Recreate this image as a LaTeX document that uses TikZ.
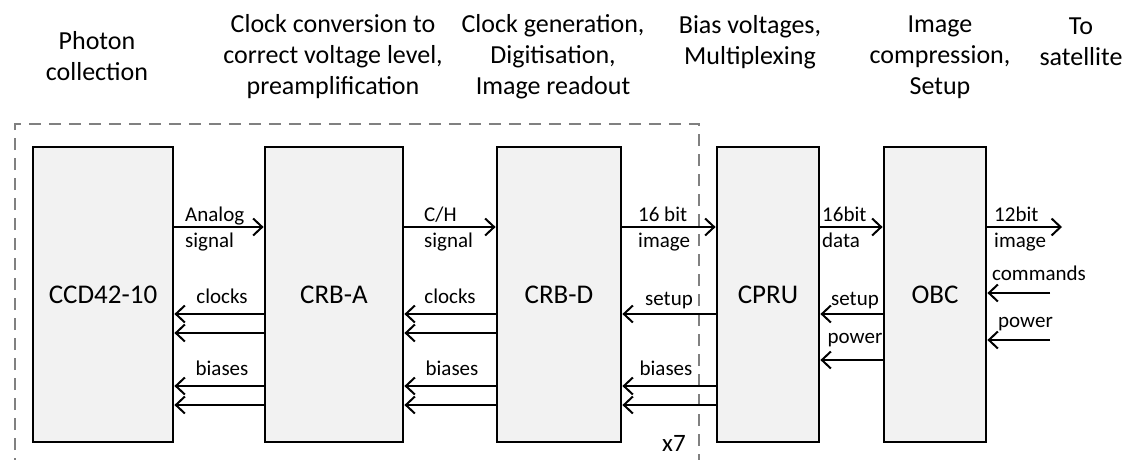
\documentclass[tikz,border=0pt]{standalone}
\usepackage{fontspec}
\setmainfont{Carlito}
\usetikzlibrary{arrows.meta, positioning}

\begin{document}
\begin{tikzpicture}[
    x=1pt, y=-1pt,
    box/.style={rectangle, minimum height=295pt, inner sep=0pt, text centered,
                draw=black, line width=2.8pt, fill=black!5, font=\fontsize{27}{30}\selectfont},
    arrow/.style={-{Straight Barb[length=9pt, width=17pt, line width=2pt]}, line width=2pt},
    labelstyle/.style={align=center, font=\fontsize{26}{31}\selectfont},
    sig/.style={inner sep=0pt, font=\fontsize{21}{25}\selectfont},
    groupbox/.style={draw=black!50, line width=2.8pt, dash pattern=on 12pt off 8pt}
]
\useasboundingbox (0,0) rectangle (1125,459);

% ==================== HEADINGS ====================
\node[labelstyle] (h-ccd)  at (97, 56)  {Photon\\collection};
\node[labelstyle] (h-crba) at (333, 57) {Clock conversion to\\correct voltage level,\\preamplification};
\node[labelstyle] (h-crbd) at (553, 57) {Clock generation,\\Digitisation,\\Image readout};
\node[labelstyle] (h-cpru) at (750, 42) {Bias voltages,\\Multiplexing};
\node[labelstyle] (h-obc)  at (940, 57) {Image\\compression,\\Setup};
\node[labelstyle] (h-sat)  at (1081, 42) {To\\satellite};

% ==================== GROUP (x7) ====================
\draw[groupbox] (15,470) -- (15,124) -- (699,124) -- (699,470);
\node[sig, anchor=base west, font=\fontsize{25}{28}\selectfont] (times) at (662, 451) {x7};

% ==================== BLOCKS ====================
\node[box, minimum width=140pt] (ccd)  at (103, 294.5) {CCD42-10};
\node[box, minimum width=138pt] (crba) at (334, 294.5) {CRB-A};
\node[box, minimum width=124pt] (crbd) at (559, 294.5) {CRB-D};
\node[box, minimum width=102pt] (cpru) at (768, 294.5) {CPRU};
\node[box, minimum width=102pt] (obc)  at (935, 294.5) {OBC};

% arrow rows
\coordinate (row-data)  at (0, 227);
\coordinate (row-clk1)  at (0, 314);
\coordinate (row-clk2)  at (0, 333);
\coordinate (row-bias1) at (0, 386);
\coordinate (row-bias2) at (0, 405);
\coordinate (row-power) at (0, 360);
\coordinate (sat-out)   at (1062, 227);
\coordinate (cmd-in)    at (1050, 293);
\coordinate (pwr-in)    at (1050, 340);

% ==================== ARROWS ====================
% CCD <-> CRB-A
\draw[arrow] (ccd.east |- row-data) -- (crba.west |- row-data);
\node[sig, anchor=base west] (l-analog) at (185, 221) {Analog};
\node[sig, anchor=base west] (l-asig)   at (185, 247) {signal};
\draw[arrow] (crba.west |- row-clk1) -- (ccd.east |- row-clk1);
\draw[arrow] (crba.west |- row-clk2) -- (ccd.east |- row-clk2);
\node[sig, anchor=base] (l-clk-a) at (222, 303) {clocks};
\draw[arrow] (crba.west |- row-bias1) -- (ccd.east |- row-bias1);
\draw[arrow] (crba.west |- row-bias2) -- (ccd.east |- row-bias2);
\node[sig, anchor=base] (l-bias-a) at (222, 375) {biases};

% CRB-A <-> CRB-D
\draw[arrow] (crba.east |- row-data) -- (crbd.west |- row-data);
\node[sig, anchor=base west] (l-ch)   at (424, 221) {C/H};
\node[sig, anchor=base west] (l-chsig) at (424, 247) {signal};
\draw[arrow] (crbd.west |- row-clk1) -- (crba.east |- row-clk1);
\draw[arrow] (crbd.west |- row-clk2) -- (crba.east |- row-clk2);
\node[sig, anchor=base] (l-clk-d) at (450, 303) {clocks};
\draw[arrow] (crbd.west |- row-bias1) -- (crba.east |- row-bias1);
\draw[arrow] (crbd.west |- row-bias2) -- (crba.east |- row-bias2);
\node[sig, anchor=base] (l-bias-d) at (452, 375) {biases};

% CRB-D <-> CPRU
\draw[arrow] (crbd.east |- row-data) -- (cpru.west |- row-data);
\node[sig, anchor=base west] (l-16)  at (638, 221) {16 bit};
\node[sig, anchor=base west] (l-img) at (638, 247) {image};
\draw[arrow] (cpru.west |- row-clk1) -- (crbd.east |- row-clk1);
\node[sig, anchor=base] (l-setup-p) at (669, 305) {setup};
\draw[arrow] (cpru.west |- row-bias1) -- (crbd.east |- row-bias1);
\draw[arrow] (cpru.west |- row-bias2) -- (crbd.east |- row-bias2);
\node[sig, anchor=base] (l-bias-p) at (666, 375) {biases};

% CPRU <-> OBC
\draw[arrow] (cpru.east |- row-data) -- (obc.west |- row-data);
\node[sig, anchor=base west] (l-16d)  at (822, 221) {16bit};
\node[sig, anchor=base west] (l-data) at (822, 247) {data};
\draw[arrow] (obc.west |- row-clk1) -- (cpru.east |- row-clk1);
\node[sig, anchor=base] (l-setup-o) at (855, 305) {setup};
\draw[arrow] (obc.west |- row-power) -- (cpru.east |- row-power);
\node[sig, anchor=base] (l-power-o) at (855, 343) {power};

% OBC <-> satellite
\draw[arrow] (obc.east |- row-data) -- (sat-out);
\node[sig, anchor=base west] (l-12)   at (994, 221) {12bit};
\node[sig, anchor=base west] (l-img2) at (994, 247) {image};
\draw[arrow] (cmd-in) -- (obc.east |- cmd-in);
\node[sig, anchor=base west] (l-cmd) at (992, 280) {commands};
\draw[arrow] (pwr-in) -- (obc.east |- pwr-in);
\node[sig, anchor=base west] (l-pwr) at (998, 327) {power};

\end{tikzpicture}
\end{document}
